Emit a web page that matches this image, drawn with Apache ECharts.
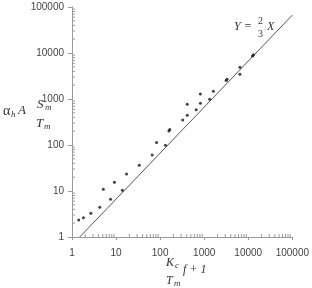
<!DOCTYPE html>
<html>
<head>
<meta charset="utf-8">
<script src="https://cdn.jsdelivr.net/npm/echarts@6/dist/echarts.min.js"></script>
<style>
  html, body { margin: 0; padding: 0; background: #fff; }
  #main { width: 312px; height: 288px; }
</style>
</head>
<body>
<div id="main"></div>
<script>
var ptX = [1.42, 1.82, 2.68, 4.27, 5.13, 7.5, 9.2, 13.9, 17.3, 33.7, 66, 83, 132, 158, 166,
  326, 413, 413, 659, 820, 820, 1330, 1620, 3150, 3300, 6470, 6470, 12500, 13100]
var ptY = [2.34, 2.63, 3.27, 4.42, 10.9, 6.6, 15.5, 10.4, 23.4, 36.3, 60.6, 113, 99, 202, 216,
  350, 442, 771, 585, 809, 1288, 984, 1475, 2530, 2680, 4920, 3440, 8600, 9150]
// model line Y = 2/3 X
var lineX = [1.5, 100000]
var lineY = [1, 66667]

var tickMin = 1
var tickMax = 100000

var chart = echarts.init(document.getElementById('main'))

var pts = ptX.map(function (x, i) { return [x, ptY[i]] })
var line = lineX.map(function (x, i) { return [x, lineY[i]] })

var axisGray = '#9a9a9a'
var labelColor = '#444'
var serif = 'Liberation Serif, DejaVu Serif, serif'
var plain = function (v) { return String(Math.round(v)) }

chart.setOption({
  animation: false,
  grid: { left: 72, right: 10, top: 7, bottom: 51 },
  xAxis: {
    type: 'log',
    logBase: 10,
    min: tickMin,
    max: tickMax,
    splitLine: { show: false },
    axisLine: { lineStyle: { color: axisGray, width: 1 } },
    axisTick: { show: true, length: 3, lineStyle: { color: axisGray } },
    axisLabel: { color: labelColor, fontSize: 10, fontFamily: 'Liberation Sans, Arial', margin: 11, showMaxLabel: true, formatter: plain }
  },
  yAxis: {
    type: 'log',
    logBase: 10,
    min: tickMin,
    max: tickMax,
    splitLine: { show: false },
    axisLine: { show: true, lineStyle: { color: axisGray, width: 1 } },
    axisTick: { show: true, length: 4, lineStyle: { color: axisGray } },
    axisLabel: { color: labelColor, fontSize: 10, fontFamily: 'Liberation Sans, Arial', margin: 8, formatter: plain }
  },
  series: [
    {
      type: 'line',
      data: line,
      symbol: 'none',
      lineStyle: { color: '#555', width: 1 },
      z: 2
    },
    {
      type: 'scatter',
      data: pts,
      symbol: 'circle',
      symbolSize: 3,
      itemStyle: { color: '#111' },
      z: 3
    }
  ]
})

// minor ticks at 2..9 of each decade, drawn inside the axes
var minorVals = []
for (var k = 1; k < tickMax; k *= 10) {
  for (var m = 2; m <= 9; m++) minorVals.push(m * k)
}
var g = []
var origin = chart.convertToPixel({ gridIndex: 0 }, [tickMin, tickMin])
minorVals.forEach(function (v) {
  var px = chart.convertToPixel({ xAxisIndex: 0 }, v)
  g.push({ type: 'line', shape: { x1: px, y1: origin[1], x2: px, y2: origin[1] - 3 }, style: { stroke: axisGray, lineWidth: 1 }, silent: true })
  var py = chart.convertToPixel({ yAxisIndex: 0 }, v)
  g.push({ type: 'line', shape: { x1: origin[0], y1: py, x2: origin[0] + 3, y2: py }, style: { stroke: axisGray, lineWidth: 1 }, silent: true })
})

function txt (x, y, s, size, extra) {
  var o = { type: 'text', x: x, y: y, style: { text: s, fill: '#333', font: 'italic ' + size + 'px ' + serif, textVerticalAlign: 'middle' }, silent: true }
  if (extra) for (var p in extra) o.style[p] = extra[p]
  return o
}

// y axis title: alpha_h A S_m / T_m
g.push(txt(3, 111, 'α', 14, { font: '14px ' + serif }))
g.push(txt(11, 115, 'h', 9))
g.push(txt(18, 111, 'A', 13))
g.push(txt(37, 105, 'S', 13))
g.push(txt(45, 108, 'm', 9))
g.push(txt(36, 124, 'T', 13))
g.push(txt(44, 127, 'm', 9))

// equation label Y = 2/3 X
g.push(txt(234, 27, 'Y =', 12))
g.push(txt(258, 21, '2', 10, { font: '10px ' + serif }))
g.push(txt(258, 34, '3', 10, { font: '10px ' + serif }))
g.push(txt(267, 27, 'X', 12))

// x axis title: K_c / T_m  f + 1
g.push(txt(166, 263, 'K', 12))
g.push(txt(175, 266, 'c', 9))
g.push(txt(166, 281, 'T', 12))
g.push(txt(174, 284, 'm', 9))
g.push(txt(183, 270, 'f + 1', 12))

chart.setOption({ graphic: g })
</script>
</body>
</html>
